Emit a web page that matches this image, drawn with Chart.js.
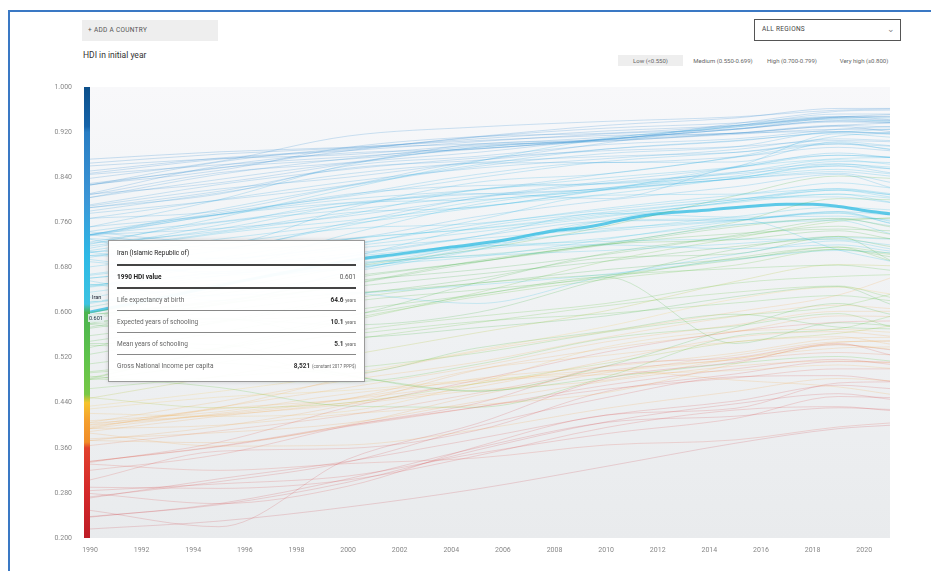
<!DOCTYPE html>
<html>
<head>
<meta charset="utf-8">
<script src="https://cdn.jsdelivr.net/npm/chart.js@4.4.1/dist/chart.umd.min.js"></script>
<style>
  html, body { margin: 0; padding: 0; background: #fff; }
  body { width: 931px; height: 571px; position: relative; overflow: hidden; font-family: Roboto, "Liberation Sans", sans-serif; }
  #frame { position: absolute; left: 8px; top: 10px; width: 940px; height: 600px; border: 2px solid #3a78c4; box-sizing: border-box; }
  #chart { position: absolute; left: 0; top: 0; }
  .btn { position: absolute; left: 82px; top: 20px; width: 136px; height: 21px; background: #eeeeee; font-size: 6.5px; color: #555; line-height: 21px; padding-left: 6px; box-sizing: border-box; letter-spacing: 0.3px; }
  .title { position: absolute; left: 83px; top: 50px; font-size: 8.5px; color: #333; }
  .select { position: absolute; left: 754px; top: 19px; width: 147px; height: 22px; border: 1.5px solid #555; box-sizing: border-box; font-size: 6.5px; color: #444; line-height: 19px; padding-left: 7px; letter-spacing: 0.3px; }
  .select span { position: absolute; right: 5px; top: 0; font-size: 9px; color: #888; }
  .legend { position: absolute; top: 55px; font-size: 6px; color: #666; height: 11px; line-height: 11px; }
  .tip { position: absolute; left: 108px; top: 240px; width: 257px; height: 142px; background: rgba(255,255,255,0.96); border: 1px solid #9a9a9a; box-shadow: 0 0 4px rgba(0,0,0,0.15); box-sizing: border-box; padding: 0 8px; font-size: 6.5px; color: #666; }
  .tip .row { display: flex; justify-content: space-between; align-items: center; border-bottom: 1px solid #888; height: 21px; }
  .tip .row.head { border-bottom: 2px solid #444; color: #222; height: 23px; }
  .tip .row.hdi { border-bottom: 2px solid #444; color: #222; font-weight: bold; }
  .tip .row.last { border-bottom: none; }
  .tip b { color: #333; font-weight: bold; }
  .tip small { font-size: 4.5px; color: #666; }
  .mark { position: absolute; font-size: 5.5px; color: #223; background: rgba(230,240,240,0.85); padding: 0 1px; line-height: 8px; }
</style>
</head>
<body>
<div id="frame"></div>
<div class="btn">+ ADD A COUNTRY</div>
<div class="title">HDI in initial year</div>
<div class="select">ALL REGIONS<span>&#8964;</span></div>
<div class="legend" style="left:618px;width:65px;background:#eeeeee;text-align:center;">Low (&lt;0.550)</div>
<div class="legend" style="left:690px;width:66px;text-align:center;">Medium (0.550-0.699)</div>
<div class="legend" style="left:762px;width:60px;text-align:center;">High (0.700-0.799)</div>
<div class="legend" style="left:832px;width:64px;text-align:center;">Very high (≥0.800)</div>
<canvas id="chart" width="931" height="571"></canvas>
<div class="tip">
  <div class="row head"><span>Iran (Islamic Republic of)</span></div>
  <div class="row hdi"><span>1990 HDI value</span><span style="font-weight:normal;color:#555">0.601</span></div>
  <div class="row"><span>Life expectancy at birth</span><span><b>64.6</b> <small>years</small></span></div>
  <div class="row"><span>Expected years of schooling</span><span><b>10.1</b> <small>years</small></span></div>
  <div class="row"><span>Mean years of schooling</span><span><b>5.1</b> <small>years</small></span></div>
  <div class="row last"><span>Gross National Income per capita</span><span><b>8,521</b> <small>(constant 2017 PPP$)</small></span></div>
</div>
<div class="mark" style="left:91px;top:293px;">Iran</div>
<div class="mark" style="left:88px;top:314px;color:#234;">0.601</div>
<script>
// annees avec valeurs
const years = [1990, 1995, 2000, 2005, 2010, 2015, 2019, 2021];

// pays par groupe (valeur HDI 1990 ... 2021)
const veryHighGroup = [
    ['Switzerland', 0.851, 0.874, 0.889, 0.912, 0.932, 0.945, 0.962, 0.962],
    ['Norway', 0.838, 0.868, 0.913, 0.929, 0.939, 0.947, 0.959, 0.961],
    ['Iceland', 0.810, 0.830, 0.864, 0.899, 0.907, 0.935, 0.957, 0.959],
    ['Australia', 0.865, 0.881, 0.892, 0.908, 0.922, 0.932, 0.947, 0.951],
    ['Germany', 0.829, 0.856, 0.887, 0.911, 0.927, 0.936, 0.948, 0.942],
    ['Netherlands', 0.847, 0.872, 0.887, 0.903, 0.917, 0.926, 0.944, 0.941],
    ['Sweden', 0.826, 0.867, 0.891, 0.899, 0.911, 0.929, 0.947, 0.947],
    ['Denmark', 0.827, 0.852, 0.893, 0.912, 0.918, 0.931, 0.946, 0.948],
    ['Finland', 0.809, 0.848, 0.866, 0.893, 0.908, 0.925, 0.940, 0.940],
    ['New Zealand', 0.826, 0.857, 0.872, 0.890, 0.907, 0.925, 0.938, 0.937],
    ['Belgium', 0.811, 0.860, 0.883, 0.890, 0.908, 0.925, 0.940, 0.937],
    ['Japan', 0.845, 0.862, 0.876, 0.891, 0.904, 0.916, 0.925, 0.925],
    ['Canada', 0.860, 0.873, 0.880, 0.897, 0.904, 0.918, 0.932, 0.936],
    ['United States', 0.872, 0.885, 0.893, 0.905, 0.914, 0.918, 0.930, 0.921],
    ['United Kingdom', 0.804, 0.845, 0.873, 0.895, 0.906, 0.918, 0.932, 0.929],
    ['Austria', 0.804, 0.836, 0.865, 0.884, 0.907, 0.918, 0.921, 0.916],
    ['Hong Kong, China', 0.789, 0.819, 0.840, 0.869, 0.901, 0.931, 0.952, 0.952],
    ['Luxembourg', 0.786, 0.810, 0.860, 0.877, 0.898, 0.908, 0.925, 0.930]
];

const highGroup = [
    ['France', 0.791, 0.827, 0.854, 0.874, 0.887, 0.894, 0.905, 0.903],
    ['Israel', 0.786, 0.815, 0.856, 0.870, 0.890, 0.904, 0.919, 0.919],
    ['Ireland', 0.752, 0.800, 0.862, 0.893, 0.906, 0.932, 0.946, 0.945],
    ['Korea', 0.737, 0.783, 0.825, 0.862, 0.890, 0.905, 0.920, 0.925],
    ['Singapore', 0.721, 0.768, 0.820, 0.868, 0.909, 0.929, 0.943, 0.939],
    ['Slovenia', 0.767, 0.780, 0.824, 0.859, 0.882, 0.894, 0.921, 0.918],
    ['Spain', 0.767, 0.800, 0.832, 0.856, 0.873, 0.889, 0.908, 0.905],
    ['Italy', 0.780, 0.812, 0.846, 0.866, 0.877, 0.884, 0.899, 0.895],
    ['Greece', 0.776, 0.799, 0.826, 0.865, 0.866, 0.876, 0.893, 0.887],
    ['Qatar', 0.752, 0.774, 0.810, 0.825, 0.829, 0.849, 0.864, 0.855],
    ['Malta', 0.744, 0.774, 0.801, 0.818, 0.846, 0.876, 0.913, 0.918],
    ['Bahrain', 0.739, 0.761, 0.790, 0.811, 0.802, 0.859, 0.879, 0.875],
    ['Cyprus', 0.738, 0.774, 0.808, 0.845, 0.866, 0.867, 0.903, 0.896],
    ['Czechia', 0.738, 0.777, 0.806, 0.839, 0.868, 0.884, 0.901, 0.889],
    ['Lithuania', 0.738, 0.715, 0.759, 0.804, 0.833, 0.857, 0.883, 0.875],
    ['Slovakia', 0.738, 0.749, 0.771, 0.803, 0.830, 0.846, 0.860, 0.848],
    ['Kuwait', 0.736, 0.773, 0.795, 0.810, 0.819, 0.837, 0.847, 0.831],
    ['Estonia', 0.731, 0.722, 0.785, 0.831, 0.846, 0.875, 0.899, 0.890],
    ['United Arab Emirates', 0.725, 0.760, 0.782, 0.806, 0.821, 0.858, 0.917, 0.911],
    ['Poland', 0.718, 0.748, 0.791, 0.817, 0.839, 0.858, 0.879, 0.876],
    ['Chile', 0.706, 0.740, 0.763, 0.788, 0.810, 0.838, 0.860, 0.855],
    ['Argentina', 0.723, 0.744, 0.777, 0.787, 0.818, 0.837, 0.850, 0.842],
    ['Russian Federation', 0.743, 0.724, 0.731, 0.770, 0.799, 0.823, 0.845, 0.822],
    ['Hungary', 0.710, 0.742, 0.774, 0.818, 0.828, 0.840, 0.854, 0.846],
    ['Portugal', 0.714, 0.755, 0.794, 0.800, 0.821, 0.842, 0.868, 0.866],
    ['Ukraine', 0.730, 0.688, 0.704, 0.735, 0.762, 0.764, 0.779, 0.773],
    ['Latvia', 0.707, 0.682, 0.739, 0.792, 0.819, 0.848, 0.871, 0.863],
    ['Uruguay', 0.701, 0.722, 0.749, 0.758, 0.785, 0.808, 0.819, 0.809],
    ['Bulgaria', 0.708, 0.713, 0.722, 0.756, 0.782, 0.802, 0.805, 0.795],
    ['Romania', 0.701, 0.696, 0.719, 0.764, 0.808, 0.810, 0.830, 0.821],
    ['Saudi Arabia', 0.698, 0.730, 0.757, 0.786, 0.818, 0.857, 0.873, 0.875],
    ['Cuba', 0.694, 0.669, 0.700, 0.735, 0.776, 0.769, 0.771, 0.764],
    ['Kazakhstan', 0.690, 0.672, 0.699, 0.751, 0.778, 0.800, 0.820, 0.811],
    ['Croatia', 0.681, 0.710, 0.754, 0.797, 0.817, 0.838, 0.863, 0.858]
];

const mediumGroup = [
    ['Costa Rica', 0.668, 0.697, 0.730, 0.749, 0.775, 0.800, 0.817, 0.809],
    ['Panama', 0.666, 0.692, 0.717, 0.743, 0.770, 0.797, 0.817, 0.805],
    ['Mexico', 0.661, 0.684, 0.713, 0.731, 0.749, 0.764, 0.779, 0.758],
    ['Jamaica', 0.661, 0.681, 0.699, 0.718, 0.720, 0.713, 0.720, 0.709],
    ['Armenia', 0.656, 0.621, 0.672, 0.720, 0.744, 0.763, 0.776, 0.759],
    ['Albania', 0.650, 0.629, 0.671, 0.711, 0.764, 0.797, 0.810, 0.796],
    ['Venezuela', 0.649, 0.665, 0.677, 0.716, 0.762, 0.766, 0.711, 0.691],
    ['Ecuador', 0.648, 0.669, 0.678, 0.711, 0.732, 0.756, 0.763, 0.740],
    ['Malaysia', 0.646, 0.686, 0.730, 0.748, 0.772, 0.795, 0.810, 0.803],
    ['Fiji', 0.645, 0.672, 0.688, 0.701, 0.710, 0.722, 0.733, 0.730],
    ['Sri Lanka', 0.636, 0.665, 0.690, 0.718, 0.746, 0.770, 0.787, 0.782],
    ['South Africa', 0.627, 0.657, 0.636, 0.616, 0.665, 0.703, 0.727, 0.713],
    ['Gabon', 0.619, 0.631, 0.634, 0.649, 0.668, 0.694, 0.710, 0.706],
    ['Jordan', 0.618, 0.652, 0.682, 0.716, 0.726, 0.730, 0.729, 0.720],
    ['Peru', 0.616, 0.652, 0.681, 0.699, 0.730, 0.762, 0.777, 0.762],
    ['Brazil', 0.610, 0.649, 0.685, 0.702, 0.723, 0.755, 0.766, 0.754],
    ['Turkey', 0.600, 0.640, 0.680, 0.712, 0.753, 0.807, 0.842, 0.838],
    ['Colombia', 0.600, 0.633, 0.664, 0.690, 0.720, 0.752, 0.767, 0.752],
    ['Philippines', 0.596, 0.617, 0.634, 0.652, 0.676, 0.695, 0.712, 0.699],
    ['Paraguay', 0.596, 0.621, 0.645, 0.668, 0.691, 0.717, 0.731, 0.717],
    ['Dominican Republic', 0.594, 0.620, 0.655, 0.676, 0.703, 0.737, 0.765, 0.767],
    ['Algeria', 0.591, 0.614, 0.649, 0.689, 0.721, 0.740, 0.748, 0.745],
    ['Botswana', 0.584, 0.588, 0.578, 0.600, 0.661, 0.712, 0.735, 0.693],
    ['Tunisia', 0.581, 0.616, 0.660, 0.690, 0.721, 0.729, 0.745, 0.731],
    ['Namibia', 0.580, 0.590, 0.556, 0.573, 0.594, 0.628, 0.646, 0.615],
    ['Mongolia', 0.579, 0.558, 0.593, 0.653, 0.705, 0.735, 0.753, 0.739],
    ['Thailand', 0.574, 0.614, 0.650, 0.692, 0.722, 0.760, 0.802, 0.800],
    ['Egypt', 0.572, 0.603, 0.631, 0.660, 0.697, 0.704, 0.735, 0.731],
    ['Syrian Arab Republic', 0.559, 0.585, 0.596, 0.631, 0.663, 0.545, 0.582, 0.577],
    ['Bolivia', 0.549, 0.582, 0.619, 0.640, 0.662, 0.697, 0.716, 0.692],
    ['Eswatini', 0.545, 0.543, 0.489, 0.460, 0.505, 0.573, 0.616, 0.597],
    ['Congo', 0.542, 0.533, 0.492, 0.537, 0.567, 0.597, 0.574, 0.571],
    ['El Salvador', 0.538, 0.584, 0.624, 0.652, 0.667, 0.678, 0.684, 0.675],
    ['Indonesia', 0.526, 0.565, 0.603, 0.632, 0.665, 0.693, 0.716, 0.705],
    ['Honduras', 0.509, 0.537, 0.561, 0.584, 0.598, 0.617, 0.630, 0.621],
    ['Nicaragua', 0.495, 0.520, 0.566, 0.593, 0.616, 0.652, 0.664, 0.667],
    ['Lesotho', 0.493, 0.510, 0.487, 0.461, 0.485, 0.510, 0.522, 0.514],
    ['Zimbabwe', 0.487, 0.467, 0.434, 0.432, 0.486, 0.558, 0.571, 0.593],
    ['China', 0.484, 0.534, 0.584, 0.635, 0.691, 0.732, 0.762, 0.768],
    ['Viet Nam', 0.482, 0.537, 0.588, 0.628, 0.659, 0.684, 0.712, 0.703],
    ['Kenya', 0.482, 0.478, 0.477, 0.508, 0.554, 0.576, 0.598, 0.575],
    ['Guatemala', 0.481, 0.511, 0.551, 0.582, 0.612, 0.636, 0.647, 0.627],
    ['Ghana', 0.465, 0.486, 0.501, 0.528, 0.565, 0.594, 0.611, 0.632],
    ['Cameroon', 0.449, 0.431, 0.440, 0.474, 0.510, 0.548, 0.563, 0.576],
    ['Morocco', 0.448, 0.487, 0.524, 0.564, 0.603, 0.655, 0.685, 0.683],
    ['India', 0.434, 0.460, 0.491, 0.533, 0.575, 0.624, 0.645, 0.633]
];

const lowGroup = [
    ['Haiti', 0.429, 0.450, 0.462, 0.481, 0.495, 0.518, 0.543, 0.535],
    ['Zambia', 0.421, 0.416, 0.425, 0.475, 0.539, 0.567, 0.570, 0.565],
    ['Madagascar', 0.408, 0.424, 0.456, 0.478, 0.490, 0.497, 0.507, 0.501],
    ['Lao PDR', 0.405, 0.442, 0.480, 0.512, 0.556, 0.593, 0.613, 0.607],
    ['Togo', 0.404, 0.418, 0.437, 0.462, 0.480, 0.518, 0.537, 0.539],
    ['Yemen', 0.401, 0.429, 0.446, 0.474, 0.497, 0.480, 0.468, 0.455],
    ['Pakistan', 0.400, 0.419, 0.447, 0.499, 0.524, 0.548, 0.557, 0.544],
    ['Bangladesh', 0.397, 0.431, 0.485, 0.531, 0.566, 0.601, 0.631, 0.661],
    ['Nepal', 0.395, 0.432, 0.467, 0.504, 0.548, 0.578, 0.602, 0.602],
    ['Mauritania', 0.394, 0.421, 0.447, 0.483, 0.504, 0.528, 0.554, 0.556],
    ['Côte d\'Ivoire', 0.394, 0.400, 0.420, 0.436, 0.458, 0.509, 0.547, 0.550],
    ['Papua New Guinea', 0.389, 0.416, 0.440, 0.468, 0.514, 0.556, 0.566, 0.558],
    ['Congo (Democratic Republic)', 0.386, 0.363, 0.365, 0.392, 0.430, 0.460, 0.483, 0.479],
    ['Senegal', 0.376, 0.387, 0.404, 0.442, 0.478, 0.505, 0.514, 0.511],
    ['Cambodia', 0.373, 0.398, 0.437, 0.498, 0.536, 0.566, 0.594, 0.593],
    ['Tanzania', 0.373, 0.369, 0.401, 0.453, 0.493, 0.524, 0.548, 0.549],
    ['Benin', 0.364, 0.390, 0.418, 0.457, 0.497, 0.516, 0.529, 0.525],
    ['Gambia', 0.336, 0.363, 0.400, 0.432, 0.464, 0.484, 0.500, 0.500],
    ['Sudan', 0.336, 0.362, 0.398, 0.432, 0.471, 0.500, 0.517, 0.508],
    ['Myanmar', 0.334, 0.370, 0.432, 0.480, 0.530, 0.566, 0.583, 0.585],
    ['Central African Republic', 0.331, 0.320, 0.332, 0.342, 0.365, 0.374, 0.397, 0.404],
    ['Uganda', 0.320, 0.348, 0.399, 0.439, 0.505, 0.520, 0.545, 0.525],
    ['Malawi', 0.303, 0.354, 0.359, 0.391, 0.460, 0.491, 0.513, 0.512],
    ['Burundi', 0.290, 0.288, 0.303, 0.346, 0.396, 0.427, 0.433, 0.426],
    ['Burkina Faso', 0.284, 0.296, 0.310, 0.350, 0.385, 0.412, 0.451, 0.449],
    ['Sierra Leone', 0.279, 0.261, 0.292, 0.362, 0.418, 0.430, 0.475, 0.477],
    ['Afghanistan', 0.273, 0.300, 0.335, 0.398, 0.449, 0.486, 0.488, 0.478],
    ['Guinea', 0.271, 0.305, 0.336, 0.376, 0.418, 0.443, 0.471, 0.465],
    ['Rwanda', 0.249, 0.220, 0.340, 0.403, 0.483, 0.512, 0.543, 0.534],
    ['Mozambique', 0.238, 0.259, 0.299, 0.356, 0.406, 0.438, 0.456, 0.446],
    ['Mali', 0.237, 0.261, 0.305, 0.360, 0.405, 0.416, 0.431, 0.428],
    ['Niger', 0.216, 0.230, 0.255, 0.287, 0.327, 0.368, 0.394, 0.400]
];

// Iran : serie mise en avant
const iranYears = [1990, 1992, 1994, 1996, 1998, 2000, 2002, 2004, 2006, 2008, 2009, 2010, 2011, 2012, 2014, 2016, 2017, 2018, 2019, 2020, 2021];
const iranValues = [0.601, 0.619, 0.638, 0.657, 0.675, 0.692, 0.704, 0.716, 0.728, 0.745, 0.750, 0.758, 0.768, 0.775, 0.782, 0.790, 0.792, 0.792, 0.788, 0.781, 0.775];

// graduations
const xTicks = [1990, 1992, 1994, 1996, 1998, 2000, 2002, 2004, 2006, 2008, 2010, 2012, 2014, 2016, 2018, 2020];
const yTicks = [0.2, 0.28, 0.36, 0.44, 0.52, 0.6, 0.68, 0.76, 0.84, 0.92, 1.0];

// couleurs de l'echelle (valeur HDI -> couleur)
const colorStops = [
    [1.00, [12, 79, 138]],
    [0.93, [22, 100, 170]],
    [0.92, [40, 125, 195]],
    [0.80, [60, 150, 215]],
    [0.70, [45, 185, 230]],
    [0.615, [60, 195, 225]],
    [0.60, [76, 180, 80]],
    [0.52, [95, 195, 75]],
    [0.455, [120, 200, 70]],
    [0.44, [245, 195, 45]],
    [0.41, [245, 160, 45]],
    [0.37, [240, 140, 40]],
    [0.36, [225, 65, 45]],
    [0.28, [212, 40, 42]],
    [0.20, [190, 28, 38]]
];

function colorFor(v, alpha) {
    for (let i = 0; i < colorStops.length - 1; i++) {
        const [v1, c1] = colorStops[i];
        const [v2, c2] = colorStops[i + 1];
        if (v <= v1 && v >= v2) {
            const t = (v1 - v) / (v1 - v2);
            const c = c1.map((ch, k) => Math.round(ch + (c2[k] - ch) * t));
            return `rgba(${c[0]}, ${c[1]}, ${c[2]}, ${alpha})`;
        }
    }
    const c = colorStops[colorStops.length - 1][1];
    return `rgba(${c[0]}, ${c[1]}, ${c[2]}, ${alpha})`;
}

const allCountries = veryHighGroup.concat(highGroup, mediumGroup, lowGroup);

const datasets = allCountries.map(function(row) {
    // lignes pales, les rouges encore plus
    const alpha = row[1] < 0.44 ? 0.17 : 0.24;
    return {
        label: row[0],
        data: years.map((yr, i) => ({ x: yr, y: row[i + 1] })),
        borderColor: colorFor(row[1], alpha),
        borderWidth: 1,
        pointRadius: 0,
        cubicInterpolationMode: 'monotone'
    };
});

datasets.push({
    label: 'Iran (Islamic Republic of)',
    data: iranYears.map((yr, i) => ({ x: yr, y: iranValues[i] })),
    borderColor: 'rgba(55, 190, 228, 0.8)',
    borderWidth: 3,
    pointRadius: 0,
    cubicInterpolationMode: 'monotone'
});

// fond de la zone du graphique
const backgroundPlugin = {
    id: 'plotBackground',
    beforeDatasetsDraw(chart) {
        const { ctx, chartArea: a } = chart;
        const g = ctx.createLinearGradient(0, a.top, 0, a.bottom);
        g.addColorStop(0, '#f8f8fa');
        g.addColorStop(0.25, '#f3f5f7');
        g.addColorStop(1, '#e9ebed');
        ctx.save();
        ctx.fillStyle = g;
        ctx.fillRect(a.left, a.top, a.right - a.left, a.bottom - a.top);
        ctx.restore();
    }
};

// barre de couleur le long de l'axe Y
const colorBarPlugin = {
    id: 'colorBar',
    afterDatasetsDraw(chart) {
        const { ctx, chartArea: a, scales } = chart;
        const y = scales.y;
        const g = ctx.createLinearGradient(0, a.top, 0, a.bottom);
        colorStops.forEach(function(s) {
            const pos = (y.getPixelForValue(s[0]) - a.top) / (a.bottom - a.top);
            g.addColorStop(Math.min(1, Math.max(0, pos)), colorFor(s[0], 1));
        });
        ctx.save();
        ctx.fillStyle = g;
        ctx.fillRect(a.left - 6, a.top, 6, a.bottom - a.top);
        ctx.restore();
    }
};

new Chart(document.getElementById('chart'), {
    type: 'line',
    data: { datasets: datasets },
    plugins: [backgroundPlugin, colorBarPlugin],
    options: {
        responsive: false,
        animation: false,
        devicePixelRatio: 1,
        layout: { padding: { left: 40, top: 87, right: 41, bottom: 18 } },
        plugins: {
            legend: { display: false },
            tooltip: { enabled: false }
        },
        scales: {
            x: {
                type: 'linear',
                min: 1990,
                max: 2021,
                afterBuildTicks: function(scale) {
                    scale.ticks = xTicks.map(v => ({ value: v }));
                },
                afterFit: function(scale) { scale.height = 15; },
                ticks: {
                    autoSkip: false,
                    maxRotation: 0,
                    padding: 0,
                    color: '#888',
                    font: { size: 7, family: 'Roboto, "Liberation Sans", sans-serif' },
                    callback: v => String(v)
                },
                grid: { display: false },
                border: { display: false }
            },
            y: {
                min: 0.2,
                max: 1.0,
                afterBuildTicks: function(scale) {
                    scale.ticks = yTicks.map(v => ({ value: v }));
                },
                afterFit: function(scale) { scale.width = 50; },
                ticks: {
                    padding: 10,
                    color: '#888',
                    font: { size: 7, family: 'Roboto, "Liberation Sans", sans-serif' },
                    callback: v => v.toFixed(3)
                },
                grid: { display: false },
                border: { display: false }
            }
        }
    }
});
</script>
</body>
</html>
